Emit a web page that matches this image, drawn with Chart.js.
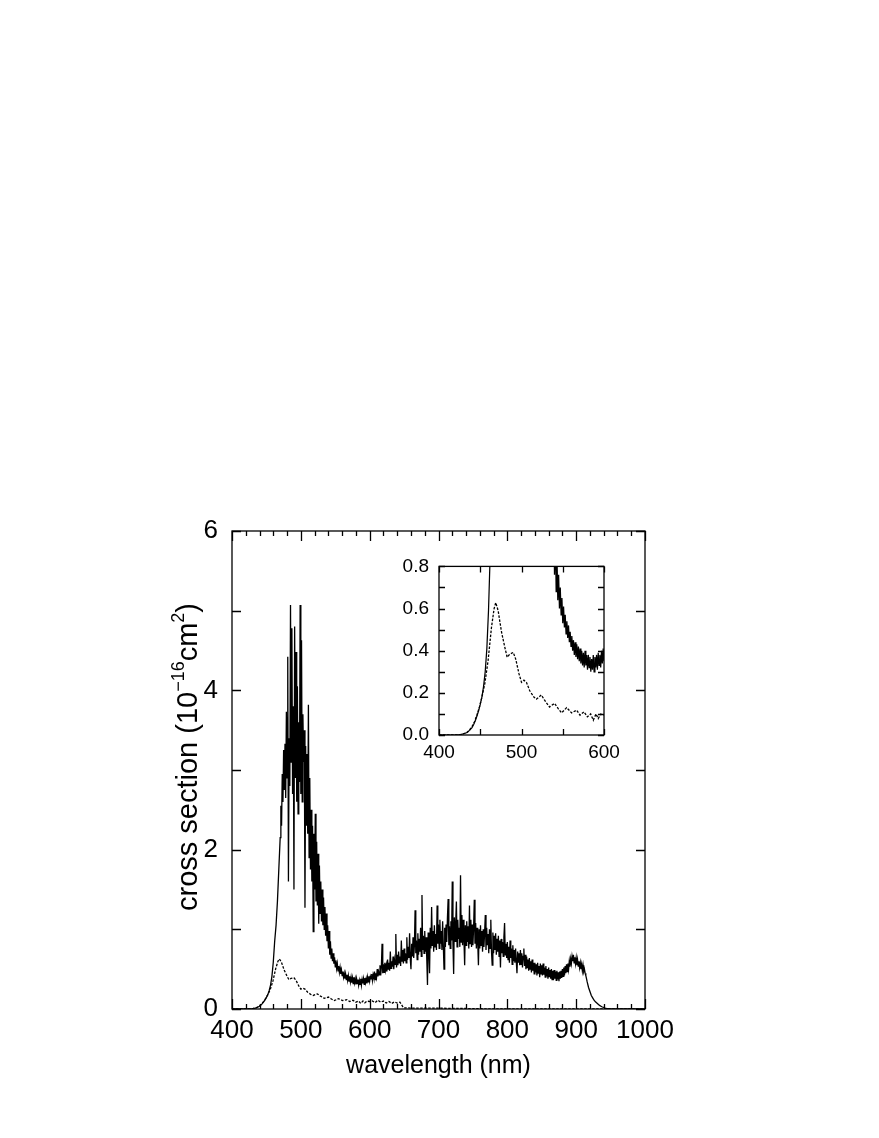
<!DOCTYPE html>
<html>
<head>
<meta charset="utf-8">
<script src="https://cdn.jsdelivr.net/npm/chart.js@4.4.1/dist/chart.umd.min.js"></script>
<style>
  html, body { margin: 0; padding: 0; background: #fff; }
  #wrap { position: relative; width: 879px; height: 1138px; }
  #main { position: absolute; left: 0; top: 0; }
  #inset { position: absolute; left: 380px; top: 545px; }
</style>
</head>
<body>
<div id="wrap">
  <canvas id="main" width="879" height="1138"></canvas>
  <canvas id="inset" width="264" height="230"></canvas>
</div>
<script>
// solid curve: wavelength (nm) and cross section (1e-16 cm^2)
const solidWave = [
  400, 420, 426, 430, 434, 437, 440, 442, 444, 446, 448, 450, 452, 454, 456, 458, 460, 462, 464, 466, 468,
  470, 471, 472, 473, 474, 475, 476, 477, 478, 479, 480, 481, 482, 483, 484, 485, 486, 487, 488, 489,
  490, 491, 492, 493, 494, 495, 496, 497, 498, 499, 500, 501, 502, 503, 504, 505, 506, 507, 508, 509,
  510, 511, 512, 513, 514, 515, 516, 517, 518, 519, 520, 521, 522, 523, 524, 525, 526, 527, 528, 529,
  530, 531, 532, 533, 534, 535, 536, 537, 538, 539, 540, 541, 542, 543, 544, 545, 546, 547, 548, 549,
  550, 551, 552, 553, 554, 555, 556, 557, 558, 559,
  560, 561, 562, 563, 564, 565, 566, 567, 568, 569,
  570, 571, 572, 573, 574, 575, 576, 577, 578, 579,
  580, 581, 582, 583, 584, 585, 586, 587, 588, 589,
  590, 591, 592, 593, 594, 595, 596, 597, 598, 599,
  600, 601, 602, 603, 604, 605, 606, 607, 608, 609,
  610, 611, 612, 613, 614, 615, 616, 617, 618, 619,
  620, 621, 622, 623, 624, 625, 626, 627, 628, 629,
  630, 631, 632, 633, 634, 635, 636, 637, 638, 639,
  640, 641, 642, 643, 644, 645, 646, 647, 648, 649,
  650, 651, 652, 653, 654, 655, 656, 657, 658, 659,
  660, 661, 662, 663, 664, 665, 666, 667, 668, 669,
  670, 671, 672, 673, 674, 675, 676, 677, 678, 679,
  680, 681, 682, 683, 684, 685, 686, 687, 688, 689,
  690, 691, 692, 693, 694, 695, 696, 697, 698, 699,
  700, 701, 702, 703, 704, 705, 706, 707, 708, 709,
  710, 711, 712, 713, 714, 715, 716, 717, 718, 719,
  720, 721, 722, 723, 724, 725, 726, 727, 728, 729,
  730, 731, 732, 733, 734, 735, 736, 737, 738, 739,
  740, 741, 742, 743, 744, 745, 746, 747, 748, 749,
  750, 751, 752, 753, 754, 755, 756, 757, 758, 759,
  760, 761, 762, 763, 764, 765, 766, 767, 768, 769,
  770, 771, 772, 773, 774, 775, 776, 777, 778, 779,
  780, 781, 782, 783, 784, 785, 786, 787, 788, 789,
  790, 791, 792, 793, 794, 795, 796, 797, 798, 799,
  800, 801, 802, 803, 804, 805, 806, 807, 808, 809,
  810, 811, 812, 813, 814, 815, 816, 817, 818, 819,
  820, 821, 822, 823, 824, 825, 826, 827, 828, 829,
  830, 831, 832, 833, 834, 835, 836, 837, 838, 839,
  840, 841, 842, 843, 844, 845, 846, 847, 848, 849,
  850, 851, 852, 853, 854, 855, 856, 857, 858, 859,
  860, 861, 862, 863, 864, 865, 866, 867, 868, 869,
  870, 871, 872, 873, 874, 875, 876, 877, 878, 879,
  880, 881, 882, 883, 884, 885, 886, 887, 888, 889,
  890, 891, 892, 893, 894, 895, 896, 897, 898, 899,
  900, 901, 902, 903, 904, 905, 906, 907, 908, 909,
  910, 911, 912, 913, 914, 915, 916, 918, 920,
  922, 924, 926, 928, 930, 932, 934, 936, 938, 940, 942, 944, 946, 948, 950, 960, 1000
];
const solidCross = [
  0, 0, 0.002, 0.006, 0.012, 0.022, 0.035, 0.05, 0.068, 0.09, 0.115, 0.145, 0.18, 0.23, 0.30, 0.41, 0.59, 0.85, 1.05, 1.35, 1.75,
  2.15, 2.55, 2.30, 2.95, 2.60, 3.25, 2.75, 3.33, 2.65, 3.73, 2.90, 4.42, 1.60, 3.40, 2.80, 5.07, 3.10, 4.78, 2.70, 3.80,
  1.50, 4.80, 2.90, 4.48, 2.60, 4.05, 2.45, 3.60, 2.85, 5.07, 2.70, 4.63, 2.60, 3.70, 3.10, 3.50, 1.27, 3.30, 2.30, 3.20,
  2.20, 3.82, 1.90, 2.90, 1.75, 2.50, 1.60, 2.30, 0.97, 2.20, 1.50, 2.45, 1.35, 2.10, 1.30, 1.95, 1.07, 1.80, 1.20, 1.60,
  1.10, 1.50, 1.05, 1.40, 1.00, 1.28, 0.92, 1.20, 0.85, 1.05, 0.76, 0.98, 0.68, 0.85, 0.64, 0.76, 0.60, 0.70, 0.57, 0.65,
  0.53, 0.61, 0.51, 0.57, 0.48, 0.54, 0.46, 0.52, 0.44, 0.49,
  0.42, 0.47, 0.40, 0.45, 0.38, 0.44, 0.37, 0.43, 0.36, 0.42,
  0.35, 0.41, 0.34, 0.40, 0.33, 0.39, 0.32, 0.40, 0.33, 0.38,
  0.31, 0.38, 0.32, 0.37, 0.30, 0.36, 0.31, 0.38, 0.30, 0.37,
  0.32, 0.38, 0.31, 0.39, 0.33, 0.38, 0.32, 0.40, 0.34, 0.41,
  0.35, 0.41, 0.38, 0.44, 0.36, 0.43, 0.39, 0.47, 0.37, 0.45,
  0.40, 0.50, 0.41, 0.47, 0.43, 0.55, 0.42, 0.52, 0.82, 0.45,
  0.56, 0.46, 0.58, 0.49, 0.55, 0.47, 0.62, 0.50, 0.58, 0.48,
  0.72, 0.51, 0.60, 0.53, 0.66, 0.50, 0.62, 0.56, 0.94, 0.52,
  0.68, 0.55, 0.72, 0.58, 0.66, 0.54, 0.86, 0.60, 0.74, 0.57,
  0.76, 0.60, 0.70, 0.58, 0.90, 0.62, 0.78, 0.64, 0.95, 0.63,
  0.50, 0.82, 0.66, 0.90, 0.64, 0.80, 1.24, 0.70, 0.86, 0.62,
  0.95, 0.68, 0.88, 0.72, 1.02, 0.66, 1.43, 0.74, 0.92, 0.70,
  0.98, 0.72, 0.90, 0.62, 0.30, 0.96, 0.74, 0.45, 1.02, 0.76,
  1.28, 0.80, 0.98, 0.72, 1.05, 0.78, 0.94, 0.74, 1.30, 0.82,
  1.06, 0.76, 1.12, 0.82, 0.98, 0.74, 1.10, 0.80, 0.50, 1.02,
  0.78, 1.06, 0.84, 1.15, 1.38, 0.80, 1.04, 0.76, 1.10, 0.86,
  1.60, 0.82, 0.44, 1.15, 0.85, 1.08, 1.35, 0.78, 1.12, 0.88,
  1.02, 0.78, 1.68, 0.84, 1.18, 0.80, 1.12, 0.86, 0.55, 1.05,
  0.80, 1.10, 0.84, 1.04, 0.76, 1.30, 0.82, 1.12, 0.78, 1.06,
  0.80, 1.02, 1.37, 0.82, 1.08, 0.76, 1.02, 0.84, 0.55, 1.00,
  0.76, 1.05, 0.80, 0.98, 0.72, 1.00, 0.78, 0.96, 1.18, 0.74,
  1.02, 0.80, 0.94, 0.70, 1.00, 0.76, 1.12, 0.72, 0.55, 0.96,
  0.70, 0.92, 0.74, 0.95, 0.68, 0.88, 0.72, 0.92, 0.66, 0.86,
  0.52, 0.88, 0.70, 0.84, 0.66, 0.90, 1.08, 0.68, 0.82, 0.64,
  0.84, 0.62, 0.78, 0.58, 0.86, 0.64, 0.76, 0.56, 0.80, 0.60,
  0.74, 0.58, 0.76, 0.60, 0.45, 0.72, 0.58, 0.70, 0.55, 0.74,
  0.56, 0.70, 0.52, 0.66, 0.76, 0.54, 0.68, 0.50, 0.66, 0.52,
  0.62, 0.48, 0.64, 0.50, 0.60, 0.46, 0.62, 0.48, 0.58, 0.44,
  0.58, 0.46, 0.56, 0.42, 0.58, 0.45, 0.54, 0.40, 0.57, 0.44,
  0.55, 0.42, 0.57, 0.43, 0.52, 0.40, 0.54, 0.41, 0.50, 0.38,
  0.52, 0.40, 0.49, 0.38, 0.50, 0.37, 0.48, 0.36, 0.49, 0.38,
  0.47, 0.36, 0.48, 0.37, 0.46, 0.35, 0.47, 0.38, 0.48, 0.39,
  0.50, 0.41, 0.52, 0.42, 0.54, 0.45, 0.56, 0.47, 0.57, 0.50,
  0.60, 0.53, 0.63, 0.57, 0.66, 0.60, 0.68, 0.58, 0.65, 0.57,
  0.64, 0.55, 0.62, 0.54, 0.60, 0.52, 0.58, 0.50, 0.56, 0.48,
  0.55, 0.47, 0.50, 0.45, 0.42, 0.38, 0.34, 0.27, 0.22,
  0.17, 0.14, 0.11, 0.09, 0.075, 0.06, 0.045, 0.035, 0.025, 0.02, 0.012, 0.008, 0.005, 0.003, 0, 0, 0
];

// dashed curve
const dashWave = [
  400, 420, 426, 430, 434, 437, 440, 443, 446, 449, 452, 455.5, 459.5, 463.6, 466.8, 468.8, 471.7, 475.7, 479.8, 482.6,
  485.8, 490, 493, 497, 500, 503, 506, 510, 515, 518, 524, 528, 534, 540, 544.5, 548.6, 554.7, 560.7, 566.8, 570.9,
  575.7, 579.8, 583.8, 587, 590.3, 593, 596, 600, 604, 608, 612, 616, 620, 624, 628, 632, 636, 640, 644, 646,
  648, 650, 660, 680, 700, 720, 740, 760, 780, 1000
];
const dashCross = [
  0, 0, 0.002, 0.006, 0.012, 0.024, 0.04, 0.063, 0.095, 0.133, 0.18, 0.243, 0.353, 0.51, 0.60, 0.628, 0.59, 0.49, 0.416, 0.369,
  0.384, 0.392, 0.36, 0.29, 0.25, 0.26, 0.25, 0.21, 0.18, 0.17, 0.19, 0.165, 0.133, 0.15, 0.125, 0.105, 0.13, 0.105, 0.118, 0.094,
  0.11, 0.086, 0.10, 0.07, 0.10, 0.078, 0.099, 0.094, 0.10, 0.08, 0.11, 0.085, 0.10, 0.075, 0.095, 0.07, 0.09, 0.075, 0.085, 0.06,
  0.03, 0.015, 0.012, 0.01, 0.01, 0.008, 0.006, 0.004, 0, 0
];

// ticks
const mainXMajor = [400, 500, 600, 700, 800, 900, 1000];
const mainXMinor = [420, 440, 460, 480, 520, 540, 560, 580, 620, 640, 660, 680, 720, 740, 760, 780, 820, 840, 860, 880, 920, 940, 960, 980];
const mainYMajor = [0, 1, 2, 3, 4, 5, 6];
const insetXMajor = [400, 450, 500, 550, 600];
const insetYMajor = [0, 0.1, 0.2, 0.3, 0.4, 0.5, 0.6, 0.7, 0.8];

const yTitleParts = [
  { text: 'cross section (10', sup: false },
  { text: '\u221216', sup: true },
  { text: 'cm', sup: false },
  { text: '2', sup: true },
  { text: ')', sup: false }
];

Chart.defaults.font.family = "'Liberation Sans', Arial, Helvetica, sans-serif";
Chart.defaults.color = '#000';

function toPoints(xs, ys) {
  return xs.map((x, i) => ({ x: x, y: ys[i] }));
}

const frameTicks = {
  id: 'frameTicks',
  afterDatasetsDraw(chart, args, opts) {
    const { ctx, chartArea: a } = chart;
    const xs = chart.scales.x, ys = chart.scales.y;
    ctx.save();
    ctx.strokeStyle = '#000';
    ctx.lineWidth = opts.lineWidth;
    ctx.beginPath();
    const drawX = (v, len) => {
      const px = Math.round(xs.getPixelForValue(v)) + 0.5;
      ctx.moveTo(px, a.bottom); ctx.lineTo(px, a.bottom - len);
      ctx.moveTo(px, a.top); ctx.lineTo(px, a.top + len);
    };
    const drawY = (v, len) => {
      const py = Math.round(ys.getPixelForValue(v)) + 0.5;
      ctx.moveTo(a.left, py); ctx.lineTo(a.left + len, py);
      ctx.moveTo(a.right, py); ctx.lineTo(a.right - len, py);
    };
    opts.xMajor.forEach(v => drawX(v, opts.majorLen));
    opts.xMinor.forEach(v => drawX(v, opts.minorLen));
    opts.yMajor.forEach(v => drawY(v, opts.yLen));
    ctx.stroke();
    ctx.strokeRect(a.left, a.top, a.right - a.left, a.bottom - a.top);
    ctx.restore();
  }
};

const yTitle = {
  id: 'yTitle',
  afterDraw(chart, args, opts) {
    if (!opts.parts) return;
    const { ctx, chartArea: a } = chart;
    const big = opts.size + "px 'Liberation Sans', Arial, sans-serif";
    const small = opts.supSize + "px 'Liberation Sans', Arial, sans-serif";
    ctx.save();
    let total = 0;
    opts.parts.forEach(p => {
      ctx.font = p.sup ? small : big;
      p.w = ctx.measureText(p.text).width;
      total += p.w;
    });
    ctx.translate(opts.x, (a.top + a.bottom) / 2 + opts.shift);
    ctx.rotate(-Math.PI / 2);
    ctx.fillStyle = '#000';
    ctx.textBaseline = 'alphabetic';
    let pos = -total / 2;
    opts.parts.forEach(p => {
      ctx.font = p.sup ? small : big;
      ctx.fillText(p.text, pos, p.sup ? -opts.raise : 0);
      pos += p.w;
    });
    ctx.restore();
  }
};

function makeDatasets(solidWidth) {
  return [
    {
      data: toPoints(solidWave, solidCross),
      borderColor: '#000',
      borderWidth: solidWidth,
      pointRadius: 0,
      tension: 0
    },
    {
      data: toPoints(dashWave, dashCross),
      borderColor: '#000',
      borderWidth: 1.3,
      borderDash: [2.5, 1.5],
      pointRadius: 0,
      tension: 0
    }
  ];
}

new Chart(document.getElementById('main'), {
  type: 'line',
  data: { datasets: makeDatasets(1.3) },
  options: {
    responsive: false,
    animation: false,
    events: [],
    layout: { padding: { top: 531, right: 234, left: 0, bottom: 0 } },
    plugins: {
      legend: { display: false },
      tooltip: { enabled: false },
      frameTicks: { lineWidth: 1.3, xMajor: mainXMajor, xMinor: mainXMinor, yMajor: mainYMajor, majorLen: 10, minorLen: 5, yLen: 9 },
      yTitle: { parts: yTitleParts, size: 29, supSize: 18, raise: 13, x: 197, shift: -13 }
    },
    scales: {
      x: {
        type: 'linear', min: 400, max: 1000,
        grid: { display: false, drawTicks: false, tickLength: 0 },
        border: { display: false },
        ticks: { stepSize: 100, autoSkip: false, maxRotation: 0, padding: 6, font: { size: 26 }, callback: v => String(v) },
        title: { display: true, text: 'wavelength (nm)', font: { size: 25 }, padding: { top: 0, bottom: 57 } },
        afterFit: s => { s.height = 129; }
      },
      y: {
        type: 'linear', min: 0, max: 6,
        grid: { display: false, drawTicks: false, tickLength: 0 },
        border: { display: false },
        ticks: { stepSize: 2, padding: 14, font: { size: 26 }, callback: v => String(v) },
        afterFit: s => { s.width = 232; }
      }
    }
  },
  plugins: [frameTicks, yTitle]
});

new Chart(document.getElementById('inset'), {
  type: 'line',
  data: { datasets: makeDatasets(1.25) },
  options: {
    responsive: false,
    animation: false,
    events: [],
    layout: { padding: { top: 20, right: 40, left: 0, bottom: 0 } },
    plugins: {
      legend: { display: false },
      tooltip: { enabled: false },
      frameTicks: { lineWidth: 1.3, xMajor: insetXMajor, xMinor: [], yMajor: insetYMajor, majorLen: 6, minorLen: 6, yLen: 6 },
      yTitle: {}
    },
    scales: {
      x: {
        type: 'linear', min: 400, max: 600,
        grid: { display: false, drawTicks: false, tickLength: 0 },
        border: { display: false },
        ticks: { stepSize: 100, autoSkip: false, maxRotation: 0, padding: 6, font: { size: 19 }, callback: v => String(v) },
        afterFit: s => { s.height = 40; }
      },
      y: {
        type: 'linear', min: 0, max: 0.8,
        grid: { display: false, drawTicks: false, tickLength: 0 },
        border: { display: false },
        ticks: { stepSize: 0.2, padding: 10, font: { size: 19 }, callback: v => v.toFixed(1) },
        afterFit: s => { s.width = 59; }
      }
    }
  },
  plugins: [frameTicks, yTitle]
});
</script>
</body>
</html>
